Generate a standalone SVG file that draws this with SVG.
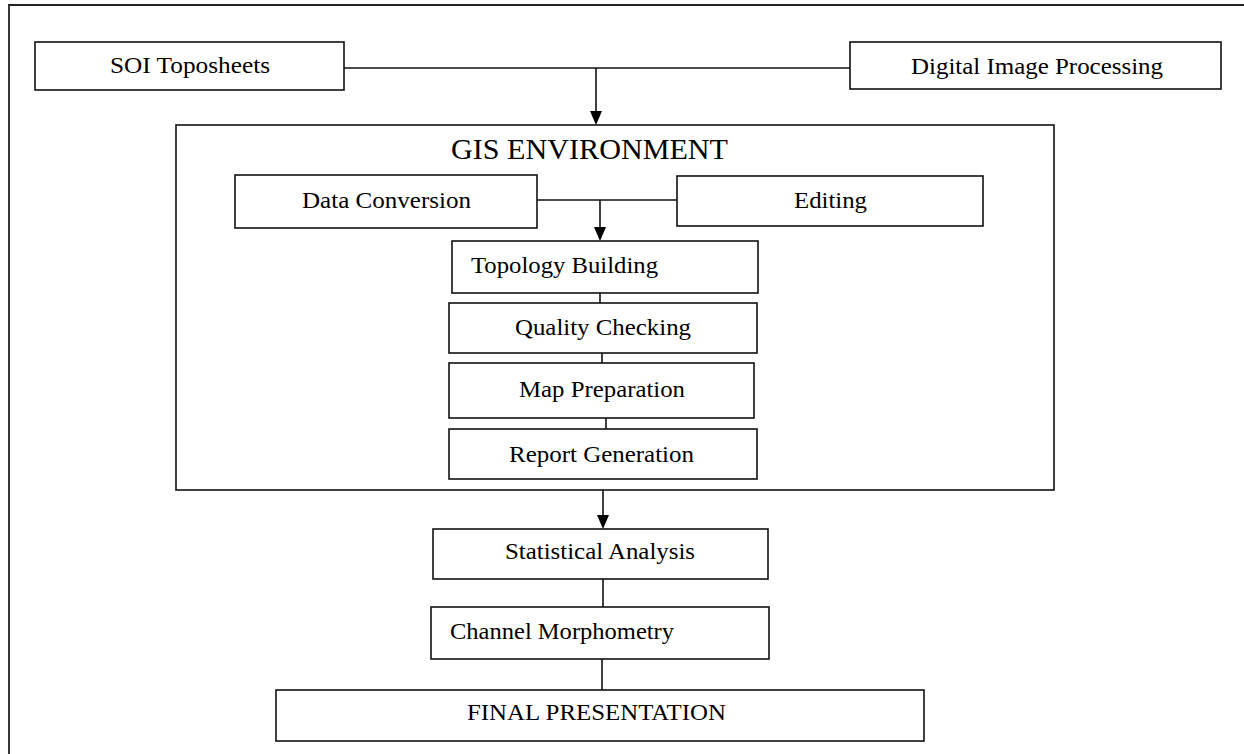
<svg xmlns="http://www.w3.org/2000/svg" width="1244" height="754" viewBox="0 0 1244 754">
<style>
.box{fill:#fff;stroke:#111;stroke-width:1.6}
.t{font-family:"Liberation Serif","Times New Roman",serif;font-size:24px;fill:#000}
.c{fill:none;stroke:#111;stroke-width:1.6}
.ah{fill:#000}
</style>
<rect width="1244" height="754" fill="#fff"/>
<path d="M9,754 V5 H1244" fill="none" stroke="#222" stroke-width="1.8"/>
<g id="gis">
<rect class="box" x="176" y="125" width="878" height="365"/>
<text class="t" x="451" y="159" style="font-size:29px" textLength="277" lengthAdjust="spacingAndGlyphs">GIS ENVIRONMENT</text>
</g>
<g id="connectors">
<line class="c" x1="344" y1="68" x2="850" y2="68"/>
<line class="c" x1="596" y1="68" x2="596" y2="112"/>
<line class="c" x1="537" y1="200" x2="677" y2="200"/>
<line class="c" x1="600" y1="200" x2="600" y2="228"/>
<line class="c" x1="600" y1="293" x2="600" y2="303"/>
<line class="c" x1="602" y1="353" x2="602" y2="363"/>
<line class="c" x1="606" y1="418" x2="606" y2="429"/>
<line class="c" x1="603" y1="490" x2="603" y2="516"/>
<line class="c" x1="603" y1="579" x2="603" y2="607"/>
<line class="c" x1="602" y1="659" x2="602" y2="690"/>
<path class="ah" d="M590,111 L602,111 L596,125 Z"/>
<path class="ah" d="M594,227 L606,227 L600,241 Z"/>
<path class="ah" d="M597,515 L609,515 L603,529 Z"/>
</g>
<g id="soi"><rect class="box" x="35" y="42" width="309" height="48"/><text class="t" x="110" y="73" textLength="160" lengthAdjust="spacingAndGlyphs">SOI Toposheets</text></g>
<g id="dip"><rect class="box" x="850" y="42" width="371" height="47"/><text class="t" x="911" y="74" textLength="252" lengthAdjust="spacingAndGlyphs">Digital Image Processing</text></g>
<g id="dataconv"><rect class="box" x="235" y="175" width="302" height="53"/><text class="t" x="302" y="208" textLength="169" lengthAdjust="spacingAndGlyphs">Data Conversion</text></g>
<g id="editing"><rect class="box" x="677" y="176" width="306" height="50"/><text class="t" x="794" y="208" textLength="73" lengthAdjust="spacingAndGlyphs">Editing</text></g>
<g id="topology"><rect class="box" x="452" y="241" width="306" height="52"/><text class="t" x="471" y="273" textLength="187" lengthAdjust="spacingAndGlyphs">Topology Building</text></g>
<g id="quality"><rect class="box" x="449" y="303" width="308" height="50"/><text class="t" x="515" y="335" textLength="176" lengthAdjust="spacingAndGlyphs">Quality Checking</text></g>
<g id="mapprep"><rect class="box" x="449" y="363" width="305" height="55"/><text class="t" x="519" y="397" textLength="166" lengthAdjust="spacingAndGlyphs">Map Preparation</text></g>
<g id="report"><rect class="box" x="449" y="429" width="308" height="50"/><text class="t" x="509" y="462" textLength="185" lengthAdjust="spacingAndGlyphs">Report Generation</text></g>
<g id="stats"><rect class="box" x="433" y="529" width="335" height="50"/><text class="t" x="505" y="559" textLength="190" lengthAdjust="spacingAndGlyphs">Statistical Analysis</text></g>
<g id="channel"><rect class="box" x="431" y="607" width="338" height="52"/><text class="t" x="450" y="639" textLength="224" lengthAdjust="spacingAndGlyphs">Channel Morphometry</text></g>
<g id="final"><rect class="box" x="276" y="690" width="648" height="51"/><text class="t" x="467" y="720" textLength="259" lengthAdjust="spacingAndGlyphs">FINAL PRESENTATION</text></g>
</svg>
